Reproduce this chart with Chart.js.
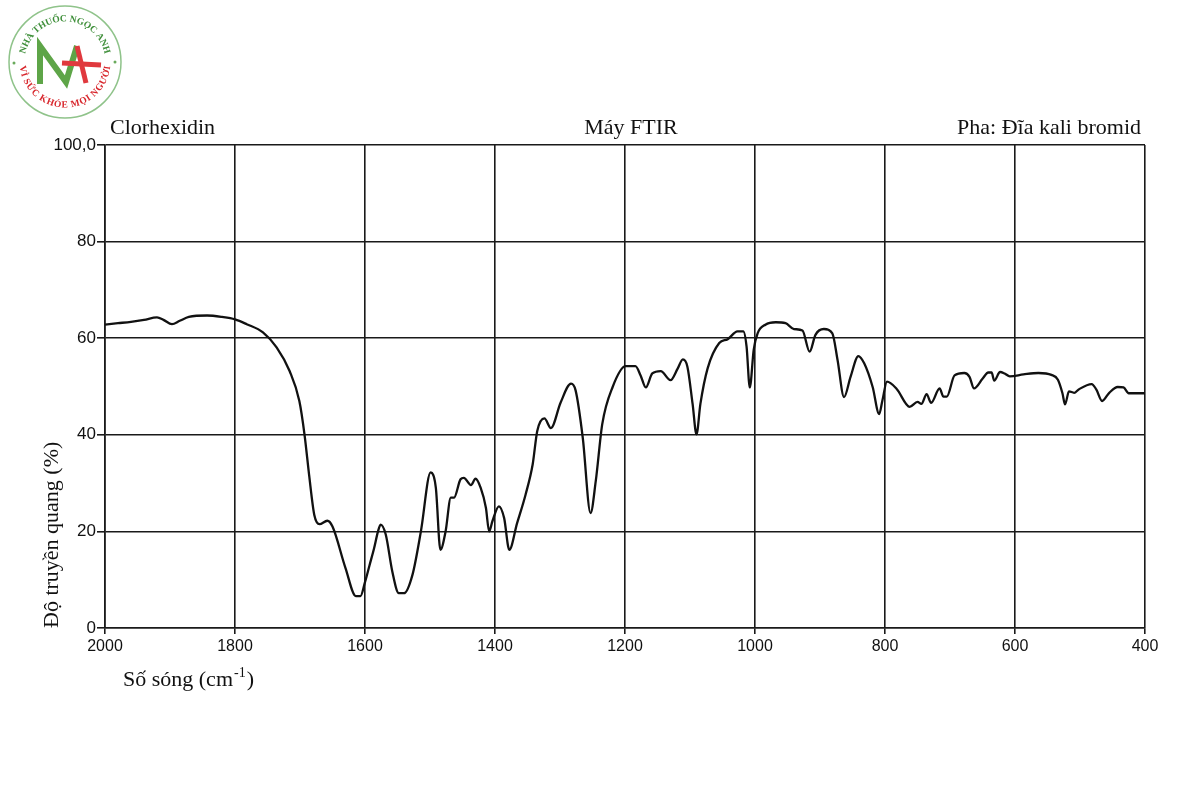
<!DOCTYPE html>
<html>
<head>
<meta charset="utf-8">
<title>Clorhexidin FTIR</title>
<script src="https://cdn.jsdelivr.net/npm/chart.js"></script>
<style>
  body { margin: 0; background: #fff; }
  canvas { display: block; }
</style>
</head>
<body>
<canvas id="irChart" width="1200" height="800"></canvas>
<script>
// Spectrum: wavenumber (cm-1) and transmittance (%)
var wavenumbers = [
  2000, 1980, 1960, 1940, 1920, 1910, 1897, 1885, 1871, 1843, 1820, 1800,
  1782, 1757, 1736, 1716, 1701, 1693, 1686, 1678, 1670, 1658, 1650, 1630,
  1614, 1607, 1600, 1593, 1586, 1580, 1576, 1568, 1558, 1548, 1540, 1527,
  1514, 1499, 1491, 1484, 1476, 1468, 1463, 1453, 1448, 1437, 1430, 1422,
  1414, 1409, 1404, 1394, 1386, 1378, 1366, 1353, 1342, 1335, 1324, 1314,
  1299, 1283, 1276, 1265, 1253, 1245, 1235, 1219, 1199, 1184, 1176, 1168,
  1158, 1145, 1130, 1119, 1111, 1104, 1096, 1090, 1084, 1073, 1055, 1042,
  1027, 1018, 1013, 1008, 1002, 996, 984, 968, 953, 940, 927, 916,
  907, 894, 881, 873, 863, 853, 841, 832, 819, 809, 804, 797,
  782, 762, 750, 744, 736, 729, 716, 710, 705, 693, 678, 670,
  663, 650, 641, 636, 632, 623, 616, 608, 587, 564, 544, 534,
  527, 523, 517, 509, 502, 482, 475, 466, 455, 442, 433, 425, 400
];
var transmittance = [
  62.8, 63.1, 63.4, 63.8, 64.3, 63.8, 62.9, 63.6, 64.4, 64.7, 64.4, 63.9,
  62.9, 61.2, 58.1, 53.2, 47.0, 40.0, 31.7, 23.4, 21.5, 22.2, 21.0, 12.4,
  6.6, 6.6, 9.5, 13.0, 16.5, 20.0, 21.4, 19.3, 11.7, 7.2, 7.2, 11.0,
  20.0, 32.2, 29.0, 16.2, 20.0, 27.0, 27.0, 30.8, 31.1, 29.6, 30.9, 29.0,
  24.9, 20.0, 22.1, 25.2, 22.8, 16.2, 21.7, 27.6, 33.9, 40.8, 43.4, 41.4,
  46.7, 50.6, 49.2, 39.4, 23.8, 30.4, 42.2, 49.9, 54.2, 54.2, 52.3, 49.8,
  52.7, 53.2, 51.3, 53.7, 55.6, 54.1, 46.4, 40.1, 46.4, 53.7, 59.0, 59.8,
  61.4, 61.4, 58.3, 49.8, 57.6, 61.0, 62.8, 63.3, 63.1, 61.9, 61.6, 57.2,
  60.7, 61.9, 61.0, 55.5, 47.8, 52.0, 56.3, 54.8, 49.9, 44.3, 47.1, 51.0,
  49.5, 45.8, 46.8, 46.4, 48.4, 46.6, 49.6, 47.9, 47.9, 52.3, 52.8, 52.0,
  49.6, 51.6, 52.9, 52.9, 51.2, 53.0, 52.7, 52.1, 52.5, 52.8, 52.4, 51.4,
  48.6, 46.3, 49.0, 48.7, 49.4, 50.5, 49.4, 47.0, 48.7, 49.9, 49.8, 48.6, 48.6
];
var xTicks = [2000, 1800, 1600, 1400, 1200, 1000, 800, 600, 400];
var yTicks = [0, 20, 40, 60, 80, 100];

var points = wavenumbers.map(function (w, i) {
  return { x: w, y: transmittance[i] };
});

// draw a string around a circle (top reads clockwise, bottom upright)
function arcText(ctx, text, cx, cy, r, bottom) {
  ctx.save();
  ctx.translate(cx, cy);
  ctx.textAlign = 'center';
  ctx.textBaseline = 'middle';
  var chars = Array.from(text);
  var total = 0;
  chars.forEach(function (c) { total += ctx.measureText(c).width + 0.3; });
  var span = total / r;
  var a = bottom ? Math.PI / 2 + span / 2 : -Math.PI / 2 - span / 2;
  chars.forEach(function (c) {
    var w = (ctx.measureText(c).width + 0.3) / r;
    ctx.save();
    if (bottom) {
      a -= w / 2;
      ctx.rotate(a - Math.PI / 2);
      ctx.fillText(c, 0, r);
      a -= w / 2;
    } else {
      a += w / 2;
      ctx.rotate(a + Math.PI / 2);
      ctx.fillText(c, 0, -r);
      a += w / 2;
    }
    ctx.restore();
  });
  ctx.restore();
}

var decorPlugin = {
  id: 'decor',
  beforeDraw: function (chart) {
    var ctx = chart.ctx;
    ctx.save();
    ctx.fillStyle = '#fff';
    ctx.fillRect(0, 0, chart.width, chart.height);
    ctx.restore();
  },
  afterDraw: function (chart) {
    var ctx = chart.ctx;
    ctx.save();

    // header line
    ctx.fillStyle = '#111';
    ctx.font = '22px "Liberation Serif"';
    ctx.textBaseline = 'alphabetic';
    ctx.textAlign = 'left';
    ctx.fillText('Clorhexidin', 110, 134);
    ctx.textAlign = 'center';
    ctx.fillText('Máy FTIR', 631, 134);
    ctx.textAlign = 'right';
    ctx.fillText('Pha: Đĩa kali bromid', 1141, 134);

    // x axis title with superscript
    ctx.textAlign = 'left';
    ctx.font = '22px "Liberation Serif"';
    var t1 = 'Số sóng (cm';
    ctx.fillText(t1, 123, 686);
    var x = 123 + ctx.measureText(t1).width;
    ctx.font = '14px "Liberation Serif"';
    ctx.fillText('-1', x + 1, 677);
    x += ctx.measureText('-1').width + 2;
    ctx.font = '22px "Liberation Serif"';
    ctx.fillText(')', x, 686);

    // pharmacy logo
    var cx = 65, cy = 62, r = 56;
    ctx.strokeStyle = '#8fc38a';
    ctx.lineWidth = 1.5;
    ctx.beginPath();
    ctx.arc(cx, cy, r, 0, Math.PI * 2);
    ctx.stroke();
    ctx.fillStyle = '#6aaa5c';
    ctx.beginPath(); ctx.arc(14, 63, 1.5, 0, Math.PI * 2); ctx.fill();
    ctx.beginPath(); ctx.arc(115, 62, 1.5, 0, Math.PI * 2); ctx.fill();

    ctx.font = 'bold 9.5px "Liberation Serif"';
    ctx.fillStyle = '#3f8f3a';
    arcText(ctx, 'NHÀ THUỐC NGỌC ANH', cx, cy, 43, false);
    ctx.fillStyle = '#d8262c';
    arcText(ctx, 'VÌ SỨC KHỎE MỌI NGƯỜI', cx, cy, 43, true);

    ctx.lineCap = 'butt';
    ctx.lineJoin = 'miter';
    ctx.strokeStyle = '#5ea548';
    ctx.lineWidth = 6;
    ctx.beginPath();
    ctx.moveTo(40, 84);
    ctx.lineTo(40, 46);
    ctx.lineTo(66, 82);
    ctx.lineTo(77, 46);
    ctx.stroke();
    ctx.strokeStyle = '#e0393e';
    ctx.lineWidth = 5;
    ctx.beginPath();
    ctx.moveTo(77, 46);
    ctx.lineTo(86, 83);
    ctx.stroke();
    ctx.beginPath();
    ctx.moveTo(62, 63);
    ctx.lineTo(101, 65);
    ctx.stroke();

    ctx.restore();
  }
};

var ctx = document.getElementById('irChart').getContext('2d');
var irChart = new Chart(ctx, {
  type: 'line',
  data: {
    datasets: [{
      label: 'Clorhexidin',
      data: points,
      borderColor: '#111',
      borderWidth: 2.3,
      pointRadius: 0,
      fill: false,
      cubicInterpolationMode: 'monotone'
    }]
  },
  options: {
    responsive: false,
    animation: false,
    layout: { padding: { top: 145, right: 55, bottom: 0, left: 10 } },
    plugins: {
      legend: { display: false },
      tooltip: { enabled: false }
    },
    scales: {
      x: {
        type: 'linear',
        reverse: true,
        min: 400,
        max: 2000,
        afterBuildTicks: function (scale) {
          scale.ticks = xTicks.map(function (v) { return { value: v }; });
        },
        afterFit: function (scale) { scale.height = 172; },
        ticks: {
          callback: function (v) { return String(v); },
          color: '#111',
          font: { family: 'Liberation Sans', size: 16 },
          padding: 3,
          maxRotation: 0,
          autoSkip: false
        },
        grid: { color: '#1a1a1a', lineWidth: 1.6, tickLength: 6 },
        border: { display: true, color: '#1a1a1a', width: 1.6 }
      },
      y: {
        min: 0,
        max: 100,
        afterBuildTicks: function (scale) {
          scale.ticks = yTicks.map(function (v) { return { value: v }; });
        },
        afterFit: function (scale) { scale.width = 95; },
        ticks: {
          callback: function (v) { return v === 100 ? '100,0' : String(v); },
          color: '#111',
          font: { family: 'Liberation Sans', size: 17 },
          padding: 1
        },
        grid: { color: '#1a1a1a', lineWidth: 1.6, tickLength: 8 },
        border: { display: true, color: '#1a1a1a', width: 1.6 },
        title: {
          display: true,
          text: 'Độ truyền quang (%)',
          align: 'start',
          color: '#111',
          font: { family: 'Liberation Serif', size: 22 },
          padding: { top: 29, bottom: 0 }
        }
      }
    }
  },
  plugins: [decorPlugin]
});
</script>
</body>
</html>
